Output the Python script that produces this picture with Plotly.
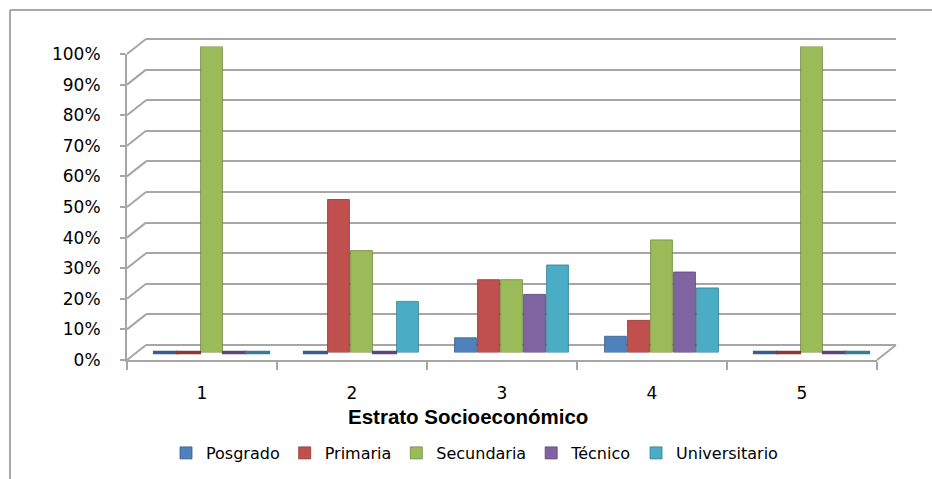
import plotly.graph_objects as go

# ---------------- data ----------------
categories = ["1", "2", "3", "4", "5"]
series_names = ["Posgrado", "Primaria", "Secundaria", "Técnico", "Universitario"]
posgrado = [0.0, 0.0, 0.048, 0.053, 0.0]
primaria = [0.0, 0.50, 0.238, 0.105, 0.0]
secundaria = [1.0, 0.333, 0.238, 0.368, 1.0]
tecnico = [0.0, 0.0, 0.190, 0.263, 0.0]
universitario = [0.0, 0.167, 0.286, 0.211, 0.0]
series_values = [posgrado, primaria, secundaria, tecnico, universitario]
y_ticks = [i / 10 for i in range(11)]
y_tick_labels = [f"{i * 10}%" for i in range(11)]
x_title = "Estrato Socioeconómico"

colors = ["#4F81BD", "#C0504D", "#9BBB59", "#8064A2", "#4BACC6"]
dark = ["#385D8A", "#8C3836", "#71893F", "#5C4776", "#357D91"]

# ---------------- geometry (pixels) ----------------
W, H = 932, 479
X0F, X1F = 127, 877      # front x extent
Y0F, Y1F = 360, 54       # front y pixel for 0 and 1.0
DX, DY = 19, 15          # depth offset (back wall)
GRID = "#A6A6A6"
FONT = "DejaVu Sans"


def xdom(x0, x1):
    return [x0 / W, x1 / W]


def ydom(y0px, y1px, lo, hi):
    per = y0px - y1px
    return [1 - (y0px - lo * per) / H, 1 - (y0px - hi * per) / H]


def py(v, y0px=Y0F, y1px=Y1F):
    return 1 - (y0px - v * (y0px - y1px)) / H


fig = go.Figure()

# back wall subplot (gridlines only)
fig.add_trace(go.Scatter(x=[0.5, 5.5], y=[0, 0], mode="markers",
                         marker=dict(opacity=0), showlegend=False,
                         hoverinfo="skip", xaxis="x", yaxis="y"))

# bars at mid depth
bargap = 0.233
slot = (1 - bargap) / len(series_names)
xnum = list(range(1, len(categories) + 1))
for i, (name, vals) in enumerate(zip(series_names, series_values)):
    fig.add_trace(go.Bar(
        x=xnum, y=vals, name=name, xaxis="x3", yaxis="y3",
        marker=dict(color=colors[i], line=dict(color=dark[i], width=0.8)),
    ))
# flat discs for zero values
for i, (name, vals) in enumerate(zip(series_names, series_values)):
    zx = [c + (i - 2) * slot for c, v in zip(xnum, vals) if v == 0]
    if zx:
        fig.add_trace(go.Scatter(
            x=zx, y=[0] * len(zx), mode="markers", xaxis="x3", yaxis="y3",
            marker=dict(symbol="line-ew", size=18,
                        line=dict(color=dark[i], width=3.5)),
            showlegend=False, hoverinfo="skip", cliponaxis=False))

# front axes subplot (labels, axis lines)
fig.add_trace(go.Scatter(x=categories, y=[0] * 5, mode="markers",
                         marker=dict(opacity=0), showlegend=False,
                         hoverinfo="skip", xaxis="x2", yaxis="y2"))

shapes = []
# diagonal connectors from front axis to back wall
for v in y_ticks:
    shapes.append(dict(type="line", xref="paper", yref="paper",
                       x0=X0F / W, y0=py(v), x1=(X0F + DX) / W,
                       y1=py(v) + DY / H,
                       line=dict(color=GRID, width=2), layer="below"))
# right edge of floor
shapes.append(dict(type="line", xref="paper", yref="paper",
                   x0=X1F / W, y0=py(0), x1=(X1F + DX) / W, y1=py(0) + DY / H,
                   line=dict(color=GRID, width=2), layer="below"))
# chart border (top and left edges visible)
shapes.append(dict(type="line", xref="paper", yref="paper",
                   x0=10 / W, y0=1 - 10 / H, x1=1.0, y1=1 - 10 / H,
                   line=dict(color="#8C8C8C", width=1.5)))
shapes.append(dict(type="line", xref="paper", yref="paper",
                   x0=10 / W, y0=1 - 10 / H, x1=10 / W, y1=0.0,
                   line=dict(color="#8C8C8C", width=1.5)))

fig.update_layout(
    template="none",
    width=W, height=H,
    margin=dict(l=0, r=0, t=0, b=0, pad=0, autoexpand=False),
    paper_bgcolor="white", plot_bgcolor="rgba(0,0,0,0)",
    barmode="group", bargap=bargap, bargroupgap=0.05,
    font=dict(family=FONT, size=16, color="black"),
    showlegend=True,
    legend=dict(orientation="h", x=166 / W, xanchor="left",
                y=1 - 453 / H, yanchor="middle",
                font=dict(family=FONT, size=16), itemwidth=30,
                bgcolor="rgba(0,0,0,0)"),
    shapes=shapes,
    annotations=[dict(text=f"<b>{x_title}</b>", xref="paper", yref="paper",
                      x=468 / W, y=1 - 416 / H, xanchor="center",
                      yanchor="middle", showarrow=False,
                      font=dict(family="Liberation Sans", size=20.5, color="black"))],
    # back wall
    xaxis=dict(domain=xdom(X0F + DX, X1F + DX), range=[0.5, 5.5],
               showgrid=False, zeroline=False, showticklabels=False,
               showline=False, ticks="", automargin=False, fixedrange=True),
    yaxis=dict(domain=ydom(Y0F - DY, Y1F - DY, -0.01, 1.01), range=[-0.01, 1.01],
               tickvals=y_ticks, showticklabels=False, showgrid=True, ticks="",
               gridcolor=GRID, gridwidth=2, zeroline=False, showline=False,
               anchor="x", automargin=False, fixedrange=True),
    # front axes
    xaxis2=dict(domain=xdom(X0F, X1F), type="category",
                categoryorder="array", categoryarray=categories,
                range=[-0.5, 4.5], showgrid=False, zeroline=False,
                showline=True, linecolor=GRID, linewidth=2,
                ticks="outside", tickson="boundaries", ticklen=8,
                tickcolor=GRID, tickwidth=2, ticklabelstandoff=17,
                tickfont=dict(family=FONT, size=17), anchor="y2",
                automargin=False),
    yaxis2=dict(domain=ydom(Y0F, Y1F, 0, 1), range=[0, 1],
                tickvals=y_ticks, ticktext=y_tick_labels,
                showgrid=False, zeroline=False, showline=True,
                linecolor=GRID, linewidth=2, ticks="outside", ticklen=5,
                tickcolor=GRID, tickwidth=2, ticklabelstandoff=16,
                tickfont=dict(family=FONT, size=17), anchor="x2",
                automargin=False),
    # bars (mid depth)
    xaxis3=dict(domain=xdom(X0F + DX / 2, X1F + DX / 2), range=[0.5, 5.5],
                visible=False, anchor="y3", automargin=False),
    yaxis3=dict(domain=ydom(Y0F - DY / 2, Y1F - DY / 2, 0, 1), range=[0, 1],
                visible=False, anchor="x3", automargin=False),
)

fig.write_html("out.html")
